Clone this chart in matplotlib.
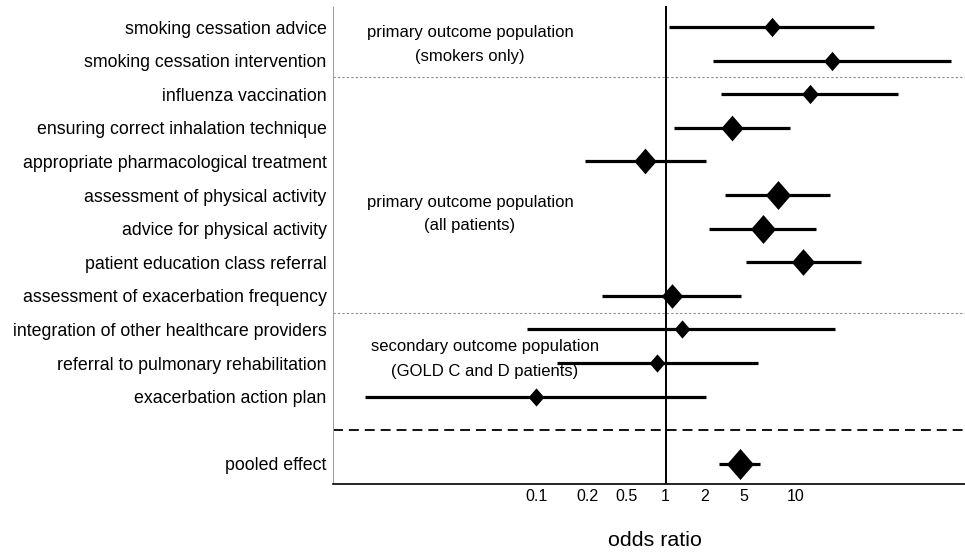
import numpy as np
import matplotlib
matplotlib.use("Agg")
import matplotlib.pyplot as plt
from matplotlib.path import Path

plt.rcParams["font.family"] = ["Liberation Sans", "DejaVu Sans"]

labels = [
    "smoking cessation advice",
    "smoking cessation intervention",
    "influenza vaccination",
    "ensuring correct inhalation technique",
    "appropriate pharmacological treatment",
    "assessment of physical activity",
    "advice for physical activity",
    "patient education class referral",
    "assessment of exacerbation frequency",
    "integration of other healthcare providers",
    "referral to pulmonary rehabilitation",
    "exacerbation action plan",
    "pooled effect",
]
odds = [6.6, 19.4, 13.0, 3.28, 0.69, 7.4, 5.6, 11.5, 1.11, 1.33, 0.86, 0.10, 3.73]
ci_low = [1.07, 2.34, 2.7, 1.17, 0.238, 2.86, 2.17, 4.16, 0.324, 0.085, 0.144, 0.0048, 2.58]
ci_high = [40.3, 159, 62.7, 9.15, 2.05, 18.7, 14.6, 32, 3.79, 20.4, 5.17, 2.05, 5.32]
# relative weight of each estimate (drives diamond size)
weights = [18, 18, 18, 24, 24, 27, 27, 25, 23, 17, 17, 17, 29]

tick_vals = [0.1, 0.25, 0.5, 1, 2, 4, 10]
tick_text = ["0.1", "0.2", "0.5", "1", "2", "5", "10"]

rows = list(range(12)) + [13]

# tall diamond marker
diamond = Path([(0, 1.15), (1, 0), (0, -1.15), (-1, 0), (0, 1.15)],
               [Path.MOVETO, Path.LINETO, Path.LINETO, Path.LINETO, Path.CLOSEPOLY])

fig = plt.figure(figsize=(9.65, 5.52), dpi=100)
ax = fig.add_axes([333 / 965, 1 - 484 / 552, 632 / 965, 478 / 552])

ax.set_xscale("log")
ax.set_xlim(0.0027, 205)
ax.set_ylim(13.6, -0.625)

ax.axvline(1, color="black", lw=1.4, zorder=1)
ax.axhline(1.5, color="#888888", lw=0.8, linestyle=(0, (2, 2)), zorder=1)
ax.axhline(8.5, color="#888888", lw=0.8, linestyle=(0, (2, 2)), zorder=1)
ax.axhline(12, color="black", lw=1.3, linestyle=(0, (5.5, 3.3)), zorder=1)

for r, o, lo, hi, w in zip(rows, odds, ci_low, ci_high, weights):
    ax.plot([lo, hi], [r, r], color="black", lw=2.3, solid_capstyle="butt", zorder=2)
    ax.plot([o], [r], marker=diamond, markersize=w * 1.07 / 1.389,
            color="black", markeredgewidth=0, zorder=3)

ax.set_yticks(rows)
ax.set_yticklabels(labels, fontsize=12.8)
ax.set_xticks(tick_vals)
ax.set_xticklabels(tick_text, fontsize=11.5)
ax.xaxis.set_minor_locator(matplotlib.ticker.NullLocator())
ax.tick_params(axis="both", length=0)
ax.tick_params(axis="y", pad=4.5)
ax.tick_params(axis="x", pad=3.5)

for s in ["top", "right"]:
    ax.spines[s].set_visible(False)
ax.spines["left"].set_color("#999999")
ax.spines["left"].set_linewidth(0.7)
ax.spines["left"].set_linestyle((0, (1, 1)))
ax.spines["bottom"].set_linewidth(1.2)

ann = dict(fontsize=12, ha="center", va="center", transform=ax.get_yaxis_transform())
ax.text(0.2168, 0.15, "primary outcome population", **ann)
ax.text(0.2168, 0.89, "(smokers only)", **ann)
ax.text(0.2168, 5.21, "primary outcome population", **ann)
ax.text(0.2168, 5.92, "(all patients)", **ann)
ax.text(0.2405, 9.52, "secondary outcome population", **ann)
ax.text(0.2405, 10.24, "(GOLD C and D patients)", **ann)

fig.text(654.7 / 965, 1 - 540 / 552, "odds ratio", fontsize=15.4, ha="center", va="center")

fig.savefig("out.png", dpi=100)
